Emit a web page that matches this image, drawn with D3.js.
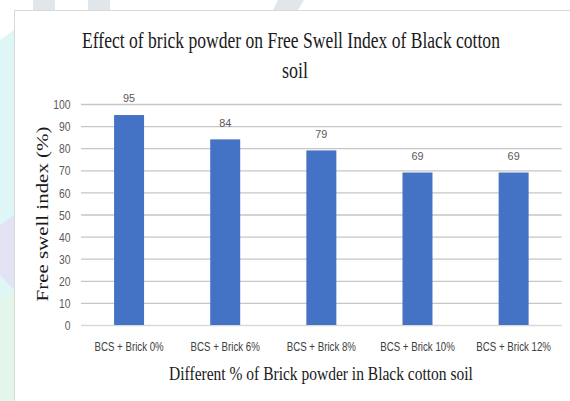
<!DOCTYPE html>
<html>
<head>
<meta charset="utf-8">
<script src="https://cdn.jsdelivr.net/npm/d3@7/dist/d3.min.js"></script>
<style>
  html, body { margin: 0; padding: 0; background: #ffffff; }
  svg { display: block; }
</style>
</head>
<body>
<svg id="chart" width="570" height="401"></svg>
<script>
// Free swell index for each brick-powder mix
const categories = ["BCS + Brick 0%", "BCS + Brick 6%", "BCS + Brick 8%", "BCS + Brick 10%", "BCS + Brick 12%"];
const swellIndex = [95, 84, 79, 69, 69];
const yTicks = [0, 10, 20, 30, 40, 50, 60, 70, 80, 90, 100];

const titleLines = ["Effect of brick powder on Free Swell Index of Black cotton", "soil"];
const xTitle = "Different % of Brick powder in Black  cotton soil";
const yTitle = "Free swell index (%)";

const svg = d3.select("#chart");
const W = 570, H = 401;

// faint decorative backdrop outside the chart card
const bg = svg.append("g");
bg.append("rect").attr("width", W).attr("height", H).attr("fill", "#ffffff");
bg.append("polygon").attr("points", "0,40 14,30 14,401 0,401").attr("fill", "#def7f6");
bg.append("polygon").attr("points", "0,225 14,215 14,290 0,275").attr("fill", "#e2e4f6");
bg.append("polygon").attr("points", "0,300 14,292 14,401 0,401").attr("fill", "#e2f6ea");
bg.append("rect").attr("x", 33).attr("y", 0).attr("width", 22).attr("height", 10).attr("fill", "#e0e6ea");
bg.append("rect").attr("x", 88).attr("y", 0).attr("width", 22).attr("height", 10).attr("fill", "#e0e6ea");
bg.append("polygon").attr("points", "278,0 304,0 298,10 273,10").attr("fill", "#e0e6ea");

// chart card
svg.append("rect")
  .attr("x", 14.5).attr("y", 10.5)
  .attr("width", W).attr("height", H)
  .attr("fill", "#ffffff")
  .attr("stroke", "#d9d9d9").attr("stroke-width", 1);

const plotLeft = 81, plotRight = 561.7, plotTop = 104, plotBottom = 325;

const x = d3.scaleBand()
  .domain(categories)
  .range([plotLeft, plotRight])
  .paddingInner(0.688)
  .paddingOuter(0.344);

const y = d3.scaleLinear()
  .domain([0, 100])
  .range([plotBottom, plotTop]);

// gridlines + value axis
const yAxis = svg.append("g")
  .attr("transform", `translate(${plotLeft},0)`)
  .call(d3.axisLeft(y).tickValues(yTicks).tickSize(-(plotRight - plotLeft)).tickPadding(10.5).tickFormat(d3.format("d")));
yAxis.select(".domain").remove();
yAxis.selectAll(".tick line")
  .attr("stroke", d => d === 0 ? "#d9d9d9" : "#c6c6c6")
  .attr("stroke-width", 1.3);
yAxis.selectAll(".tick text")
  .attr("x", null).attr("dy", null)
  .attr("transform", "translate(-10.5,4.6) scale(0.82,1)")
  .attr("text-anchor", "end")
  .attr("fill", "#595959")
  .attr("font-family", "'Liberation Sans', Arial, sans-serif")
  .attr("font-size", "12.6px");

// bars
svg.append("g").selectAll("rect")
  .data(swellIndex)
  .join("rect")
  .attr("x", (d, i) => x(categories[i]))
  .attr("y", d => y(d))
  .attr("width", x.bandwidth())
  .attr("height", d => y(0) - y(d))
  .attr("fill", "#4472c4");

// value labels
svg.append("g").selectAll("text")
  .data(swellIndex)
  .join("text")
  .attr("transform", (d, i) => `translate(${x(categories[i]) + x.bandwidth() / 2},${y(d) - 12.6}) scale(0.95,1)`)
  .attr("text-anchor", "middle")
  .attr("fill", "#595959")
  .attr("font-family", "'Liberation Sans', Arial, sans-serif")
  .attr("font-size", "11.4px")
  .text(d => d);

// category labels
svg.append("g").selectAll("text")
  .data(categories)
  .join("text")
  .attr("transform", d => `translate(${x(d) + x.bandwidth() / 2},351) scale(0.77,1)`)
  .attr("text-anchor", "middle")
  .attr("fill", "#404040")
  .attr("font-family", "'Liberation Sans', Arial, sans-serif")
  .attr("font-size", "12.6px")
  .text(d => d);

// condensed serif text: squeeze the run horizontally to the wanted width
const serif = "'Liberation Serif', 'Times New Roman', serif";
function condensed(str, cx, cy, size, width, angle) {
  const t = svg.append("text")
    .attr("text-anchor", "middle")
    .attr("font-family", serif).attr("font-size", size + "px").attr("fill", "#1a1a1a")
    .text(str);
  const natural = t.node().getComputedTextLength();
  const k = width / natural;
  t.attr("transform", `translate(${cx},${cy}) rotate(${angle || 0}) scale(${k},1)`);
  return t;
}

// chart title
condensed(titleLines[0], 291, 47.5, 22.5, 418);
condensed(titleLines[1], 295, 77.5, 22.5, 26);

// axis titles
condensed(xTitle, 321, 380, 19.5, 304);
condensed(yTitle, 48, 214, 17, 175, -90);
</script>
</body>
</html>
